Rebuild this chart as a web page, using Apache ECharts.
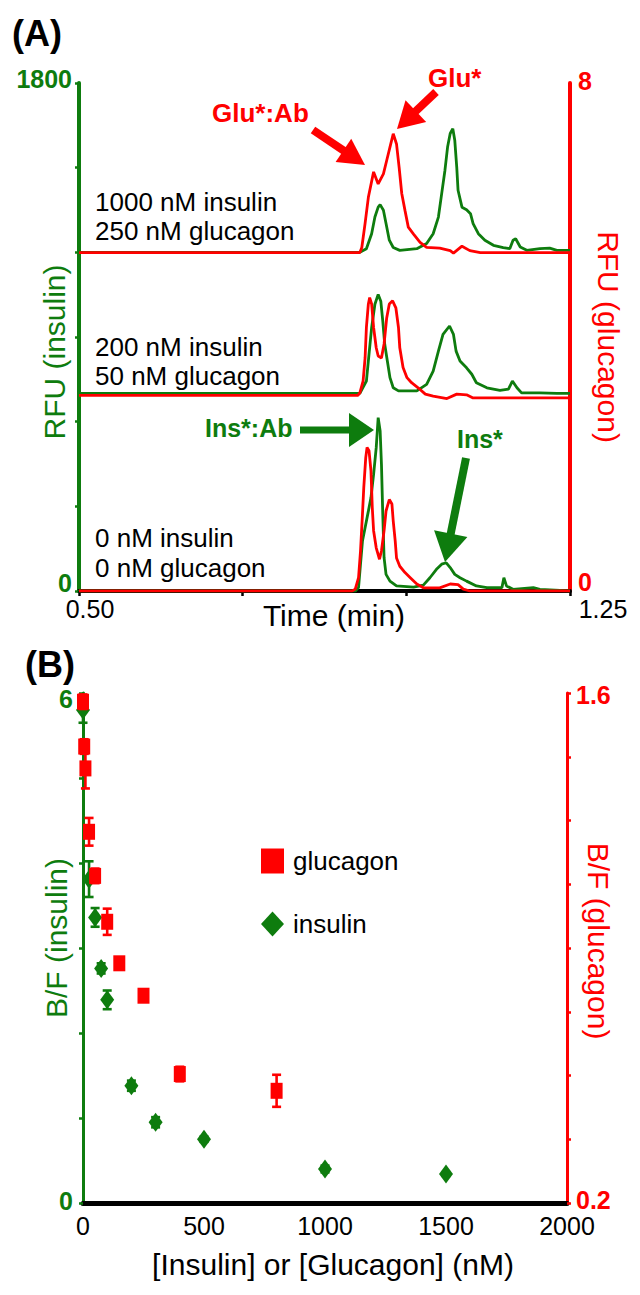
<!DOCTYPE html>
<html><head><meta charset="utf-8">
<script src="https://cdn.jsdelivr.net/npm/echarts@6/dist/echarts.min.js"></script>
<style>html,body{margin:0;padding:0;background:#fff}#c{width:640px;height:1295px}</style>
</head><body><div id="c"></div><script>
// ---------- Panel A: electropherogram traces (time in min, raw heights above each trace's baseline) ----------
const insTopT = [0.5, 0.929, 0.939, 0.947, 0.952, 0.957, 0.960, 0.965, 0.969, 0.974, 0.980, 0.990, 1.016, 1.031, 1.041, 1.049, 1.054, 1.059, 1.063, 1.067, 1.071, 1.074, 1.077, 1.079, 1.085, 1.092, 1.098, 1.102, 1.110, 1.120, 1.133, 1.148, 1.158, 1.163, 1.167, 1.174, 1.184, 1.204, 1.219, 1.230, 1.25];
const insTopV = [0, 0, 13, 66, 125, 160, 169, 149, 102, 43, 17, 7, 13, 31, 66, 125, 208, 291, 373, 421, 438, 397, 302, 220, 160, 151, 137, 102, 66, 43, 25, 17, 13, 43, 48, 19, 7, 13, 15, 7, 7];
const gluTopT = [0.5, 0.929, 0.932, 0.937, 0.942, 0.950, 0.957, 0.965, 0.970, 0.975, 0.980, 0.985, 0.989, 0.993, 0.998, 1.003, 1.011, 1.021, 1.031, 1.051, 1.067, 1.072, 1.085, 1.097, 1.113, 1.25];
const gluTopV = [0, 0, 0.08, 0.46, 0.87, 1.27, 1.08, 1.24, 1.45, 1.66, 1.87, 1.71, 1.34, 0.93, 0.66, 0.40, 0.29, 0.16, 0.08, 0.07, 0.03, -0.01, 0.10, 0.03, 0, 0];

const insMidT = [0.5, 0.929, 0.939, 0.943, 0.947, 0.952, 0.957, 0.961, 0.964, 0.967, 0.971, 0.975, 0.980, 0.988, 1.016, 1.031, 1.041, 1.049, 1.056, 1.066, 1.072, 1.076, 1.082, 1.092, 1.100, 1.107, 1.123, 1.143, 1.156, 1.162, 1.169, 1.176, 1.204, 1.230, 1.25];
const insMidV = [0, 0, 44, 139, 233, 316, 351, 327, 257, 174, 115, 56, 20, 9, 9, 32, 79, 150, 209, 239, 209, 150, 115, 91, 68, 38, 20, 11, 15, 44, 20, 2, 2, 0, 0];
const gluMidT = [0.5, 0.926, 0.929, 0.934, 0.937, 0.939, 0.942, 0.944, 0.947, 0.950, 0.954, 0.957, 0.962, 0.966, 0.970, 0.974, 0.979, 0.984, 0.988, 0.990, 0.995, 1.001, 1.008, 1.018, 1.029, 1.041, 1.062, 1.077, 1.092, 1.102, 1.25];
const gluMidV = [0, 0, 0.04, 0.23, 0.59, 1.07, 1.44, 1.54, 1.44, 1.07, 0.75, 0.62, 0.59, 0.81, 1.22, 1.44, 1.49, 1.38, 1.07, 0.75, 0.44, 0.28, 0.20, 0.12, 0.02, -0.01, -0.05, 0.02, 0.01, -0.04, -0.04];

const insBotT = [0.5, 0.922, 0.927, 0.930, 0.933, 0.937, 0.942, 0.946, 0.950, 0.954, 0.957, 0.960, 0.962, 0.964, 0.966, 0.969, 0.975, 0.985, 1.011, 1.026, 1.036, 1.046, 1.054, 1.061, 1.067, 1.074, 1.082, 1.092, 1.107, 1.123, 1.146, 1.149, 1.153, 1.163, 1.194, 1.204, 1.25];
const insBotV = [0, 0, 12, 95, 177, 224, 283, 331, 413, 508, 614, 567, 449, 272, 118, 59, 35, 18, 14, 21, 47, 77, 95, 100, 83, 59, 47, 35, 18, 12, 12, 47, 18, 6, 12, 6, 0];
const gluBotT = [0.5, 0.917, 0.922, 0.927, 0.930, 0.933, 0.935, 0.938, 0.940, 0.943, 0.946, 0.948, 0.950, 0.954, 0.959, 0.962, 0.966, 0.969, 0.974, 0.978, 0.980, 0.983, 0.985, 0.990, 0.998, 1.006, 1.016, 1.026, 1.051, 1.067, 1.079, 1.087, 1.097, 1.25];
const gluBotV = [0, 0, 0.03, 0.21, 0.63, 1.21, 1.63, 2.10, 2.26, 2.21, 1.89, 1.31, 0.95, 0.68, 0.50, 0.63, 0.95, 1.26, 1.44, 1.37, 1.10, 0.79, 0.52, 0.39, 0.29, 0.21, 0.11, 0.05, 0.05, 0.11, 0.10, 0.03, 0, 0];

// vertical offsets of the three stacked traces (bottom, middle, top)
const insOffsets = [0, 700, 1200];      // RFU (insulin)
const gluOffsets = [0, 3.08, 5.33];     // RFU (glucagon)
const traceLabels = [['0 nM insulin','0 nM glucagon'], ['200 nM insulin','50 nM glucagon'], ['1000 nM insulin','250 nM glucagon']];

const timeTicks = [0.5, 0.75, 1.0, 1.25];
const timeTickLabels = ['0.50', '', '', '1.25'];
const rfuInsTickLabels = {0: '0', 1800: '1800'};
const rfuGluTickLabels = {0: '0', 8: '8'};

// ---------- Panel B: B/F vs concentration ----------
const glucagonConc = [0, 5, 10, 25, 50, 100, 150, 250, 400, 800];
const glucagonBF   = [1.576, 1.453, 1.393, 1.219, 1.098, 0.972, 0.858, 0.769, 0.554, 0.508];
const glucagonErr  = [0.02, 0.02, 0.055, 0.038, 0.02, 0.036, 0.01, 0.01, 0.02, 0.044];
const insulinConc  = [0, 25, 50, 75, 100, 200, 300, 500, 1000, 1500];
const insulinBF    = [5.8, 3.81, 3.36, 2.76, 2.39, 1.38, 0.95, 0.75, 0.40, 0.34];
const insulinErr   = [0.15, 0.21, 0.11, 0.06, 0.11, 0.06, 0.06, 0.03, 0.04, 0.02];
const concTicks = [0, 500, 1000, 1500, 2000];
const concTickLabels = ['0', '500', '1000', '1500', '2000'];
const bfGluTicks = [0.2, 0.375, 0.55, 0.725, 0.9, 1.075, 1.25, 1.425, 1.6];
const bfGluLabels = [0.2, 1.6];
const bfInsTickLabels = {0: '0', 6: '6'};

// ---------- styling ----------
const GREEN = '#0e7c0e', RED = '#ff0000';
const FONT = '"Liberation Sans", Arial, sans-serif';

const chart = echarts.init(document.getElementById('c'), null, {renderer: 'svg'});

function traceSeries(T, V, off, color, yIdx, z) {
  return {type: 'line', xAxisIndex: 0, yAxisIndex: yIdx, showSymbol: false, symbol: 'none', z: z,
    lineStyle: {color: color, width: 2.8}, itemStyle: {color: color},
    data: T.map((t, i) => [t, V[i] + off])};
}
function errSeries(name, X, Y, E, color, z) {
  return {name: name, type: 'custom', xAxisIndex: 1, yAxisIndex: color === RED ? 3 : 2, z: z,
    data: X.map((x, i) => [x, Y[i], E[i]]),
    encode: {x: 0, y: 1},
    renderItem: function (params, api) {
      const x = api.value(0), y = api.value(1), e = api.value(2);
      const a = api.coord([x, y + e]), b = api.coord([x, y - e]);
      const cw = 4.5, st = {stroke: color, lineWidth: 2.6};
      return {type: 'group', children: [
        {type: 'line', shape: {x1: a[0], y1: a[1], x2: b[0], y2: b[1]}, style: st},
        {type: 'line', shape: {x1: a[0] - cw, y1: a[1], x2: a[0] + cw, y2: a[1]}, style: st},
        {type: 'line', shape: {x1: b[0] - cw, y1: b[1], x2: b[0] + cw, y2: b[1]}, style: st}
      ]};
    }};
}
function txt(text, x, y, size, color, o) {
  o = o || {};
  const align = o.align || 'left';
  return {type: 'text', x: x, y: y, rotation: o.rot || 0, z: 100,
    style: {text: text, font: (o.bold ? 'bold ' : '') + size + 'px ' + FONT, fill: color,
      align: align, textAlign: align, verticalAlign: 'middle', textVerticalAlign: 'middle'}};
}
function arrow(sx, sy, tx, ty, headLen, halfW, shaftW, color) {
  const dx = tx - sx, dy = ty - sy, L = Math.hypot(dx, dy), ux = dx / L, uy = dy / L;
  const bx = tx - ux * headLen, by = ty - uy * headLen, px = -uy, py = ux;
  return [
    {type: 'line', z: 100, shape: {x1: sx, y1: sy, x2: bx + ux * 3, y2: by + uy * 3}, style: {stroke: color, lineWidth: shaftW}},
    {type: 'polygon', z: 100, shape: {points: [[tx, ty], [bx + px * halfW, by + py * halfW], [bx - px * halfW, by - py * halfW]]}, style: {fill: color}}
  ];
}

const series = [];
const insT = [insBotT, insMidT, insTopT], insV = [insBotV, insMidV, insTopV];
const gluT = [gluBotT, gluMidT, gluTopT], gluV = [gluBotV, gluMidV, gluTopV];
for (let k = 0; k < 3; k++) series.push(traceSeries(insT[k], insV[k], insOffsets[k], GREEN, 0, 3));
for (let k = 0; k < 3; k++) series.push(traceSeries(gluT[k], gluV[k], gluOffsets[k], RED, 1, 4));
series.push(errSeries('insulin error', insulinConc, insulinBF, insulinErr, GREEN, 5));
series.push({name: 'insulin', type: 'scatter', xAxisIndex: 1, yAxisIndex: 2, z: 6, symbol: 'diamond', symbolSize: [14, 19],
  itemStyle: {color: GREEN, opacity: 1}, data: insulinConc.map((x, i) => [x, insulinBF[i]])});
series.push(errSeries('glucagon error', glucagonConc, glucagonBF, glucagonErr, RED, 7));
series.push({name: 'glucagon', type: 'scatter', xAxisIndex: 1, yAxisIndex: 3, z: 8, symbol: 'rect', symbolSize: [12, 16],
  itemStyle: {color: RED, opacity: 1}, data: glucagonConc.map((x, i) => [x, glucagonBF[i]])});

const graphics = [
  txt('(A)', 12, 33, 36, '#000', {bold: true}),
  txt('(B)', 25, 664, 36, '#000', {bold: true}),
  txt('RFU (insulin)', 54, 352, 30, GREEN, {align: 'center', rot: Math.PI / 2}),
  txt('RFU (glucagon)', 608, 337, 30, RED, {align: 'center', rot: -Math.PI / 2}),
  txt('Time (min)', 334, 615, 30, '#000', {align: 'center'}),
  txt('B/F (insulin)', 56, 938, 30, GREEN, {align: 'center', rot: Math.PI / 2}),
  txt('B/F (glucagon)', 598, 941, 30, RED, {align: 'center', rot: -Math.PI / 2}),
  txt('[Insulin] or [Glucagon] (nM)', 333, 1264, 30, '#000', {align: 'center'}),
  txt(traceLabels[2][0], 95, 202, 26, '#000'), txt(traceLabels[2][1], 95, 231, 26, '#000'),
  txt(traceLabels[1][0], 95, 347, 26, '#000'), txt(traceLabels[1][1], 95, 376, 26, '#000'),
  txt(traceLabels[0][0], 95, 538, 26, '#000'), txt(traceLabels[0][1], 95, 568, 26, '#000'),
  txt('Glu*:Ab', 212, 113, 26, RED, {bold: true}),
  txt('Glu*', 428, 78, 26, RED, {bold: true}),
  txt('Ins*:Ab', 205, 428, 25, GREEN, {bold: true}),
  txt('Ins*', 457, 439, 25, GREEN, {bold: true})
].concat(
  arrow(313, 130, 365, 165, 26, 14, 8, RED),
  arrow(436, 92, 397, 129, 26, 15, 8, RED),
  arrow(300, 430, 374, 430, 25, 17, 7, GREEN),
  arrow(466, 458, 445, 562, 29, 17, 8, GREEN)
);

const option = {
  animation: false,
  backgroundColor: '#fff',
  grid: [{left: 79, top: 83, width: 491, height: 508}, {left: 83, top: 693, width: 484, height: 510}],
  legend: {data: ['glucagon', 'insulin'], orient: 'vertical', left: 261, top: 848, itemWidth: 23, itemHeight: 25,
    itemGap: 37, padding: 0, textStyle: {fontSize: 26, color: '#000', fontFamily: FONT, padding: [0, 0, 0, 4]}},
  xAxis: [
    {gridIndex: 0, type: 'value', min: 0.5, max: 1.25, interval: 0.25,
      axisLine: {onZero: false, lineStyle: {color: '#000', width: 4}},
      axisTick: {show: true, length: 5, lineStyle: {color: '#000', width: 2.5}},
      splitLine: {show: false},
      axisLabel: {margin: 8, lineHeight: 20, alignMinLabel: 'center', alignMaxLabel: 'center',
        formatter: function (v) {
          const i = timeTicks.findIndex(t => Math.abs(t - v) < 1e-6);
          const s = i >= 0 ? timeTickLabels[i] : '';
          if (!s) return '';
          return (i === 0 ? '{l|' : '{r|') + s + '}';
        }, rich: {
          l: {fontSize: 25, lineHeight: 20, fontFamily: FONT, color: '#000', padding: [0, 0, 0, 22]},
          r: {fontSize: 25, lineHeight: 20, fontFamily: FONT, color: '#000', padding: [0, 0, 0, 66]}
        }}},
    {gridIndex: 1, type: 'value', min: concTicks[0], max: concTicks[concTicks.length - 1], interval: 500,
      axisLine: {onZero: false, lineStyle: {color: '#000', width: 5}},
      axisTick: {show: false}, splitLine: {show: false},
      axisLabel: {margin: 13, lineHeight: 20, fontSize: 25, color: '#000', fontFamily: FONT,
        formatter: function (v) { const i = concTicks.indexOf(v); return i >= 0 ? concTickLabels[i] : ''; }}}
  ],
  yAxis: [
    {gridIndex: 0, type: 'value', min: 0, max: 1800, interval: 300, position: 'left',
      axisLine: {show: true, onZero: false, lineStyle: {color: GREEN, width: 4}},
      axisTick: {show: true, length: 4, lineStyle: {color: GREEN, width: 2.5}},
      splitLine: {show: false},
      axisLabel: {margin: 7, fontSize: 25, lineHeight: 18, fontWeight: 'bold', color: GREEN, fontFamily: FONT,
        formatter: v => rfuInsTickLabels[v] ? (v === 0 ? '{z|0}' : '{t|' + rfuInsTickLabels[v] + '}') : '',
        rich: {t: {fontSize: 25, lineHeight: 18, fontWeight: 'bold', color: GREEN, fontFamily: FONT, padding: [0, 0, 8, 0]},
               z: {fontSize: 25, lineHeight: 18, fontWeight: 'bold', color: GREEN, fontFamily: FONT, padding: [0, 0, 16, 0]}}}},
    {gridIndex: 0, type: 'value', min: 0, max: 8, interval: 8, position: 'right',
      axisLine: {show: true, onZero: false, lineStyle: {color: RED, width: 4}},
      axisTick: {show: false}, splitLine: {show: false},
      axisLabel: {margin: 8, fontSize: 25, lineHeight: 18, fontWeight: 'bold', color: RED, fontFamily: FONT,
        formatter: v => rfuGluTickLabels[v] ? (v === 0 ? '{z|0}' : '{t|' + rfuGluTickLabels[v] + '}') : '',
        rich: {t: {fontSize: 25, lineHeight: 18, fontWeight: 'bold', color: RED, fontFamily: FONT, padding: [0, 0, 4, 0]},
               z: {fontSize: 25, lineHeight: 18, fontWeight: 'bold', color: RED, fontFamily: FONT, padding: [0, 0, 18, 0]}}}},
    {gridIndex: 1, type: 'value', min: 0, max: 6, interval: 1, position: 'left',
      axisLine: {show: true, onZero: false, lineStyle: {color: GREEN, width: 3}},
      axisTick: {show: true, length: 4, lineStyle: {color: GREEN, width: 2.5}},
      splitLine: {show: false},
      axisLabel: {margin: 10, fontSize: 25, lineHeight: 18, fontWeight: 'bold', color: GREEN, fontFamily: FONT,
        formatter: v => v === 6 ? '{d|6}' : (v === 0 ? '{z|0}' : ''),
        rich: {d: {fontSize: 25, lineHeight: 18, fontWeight: 'bold', color: GREEN, fontFamily: FONT, padding: [12, 0, 0, 0]},
               z: {fontSize: 25, lineHeight: 18, fontWeight: 'bold', color: GREEN, fontFamily: FONT, padding: [0, 0, 4, 0]}}}},
    {gridIndex: 1, type: 'value', min: 0.2, max: 1.6, position: 'right',
      axisLine: {show: true, onZero: false, lineStyle: {color: RED, width: 3}},
      axisTick: {show: true, length: 4, customValues: bfGluTicks, lineStyle: {color: RED, width: 2.5}},
      splitLine: {show: false},
      axisLabel: {margin: 9, fontSize: 25, lineHeight: 18, fontWeight: 'bold', color: RED, fontFamily: FONT,
        customValues: bfGluLabels,
        formatter: v => (Math.abs(v - bfGluLabels[0]) < 1e-9 ? '{z|' : '{t|') + v.toFixed(1) + '}',
        rich: {t: {fontSize: 25, lineHeight: 18, fontWeight: 'bold', color: RED, fontFamily: FONT, padding: [4, 0, 0, 0]},
               z: {fontSize: 25, lineHeight: 18, fontWeight: 'bold', color: RED, fontFamily: FONT, padding: [0, 0, 6, 0]}}}}
  ],
  series: series,
  graphic: graphics
};
chart.setOption(option);
</script></body></html>
